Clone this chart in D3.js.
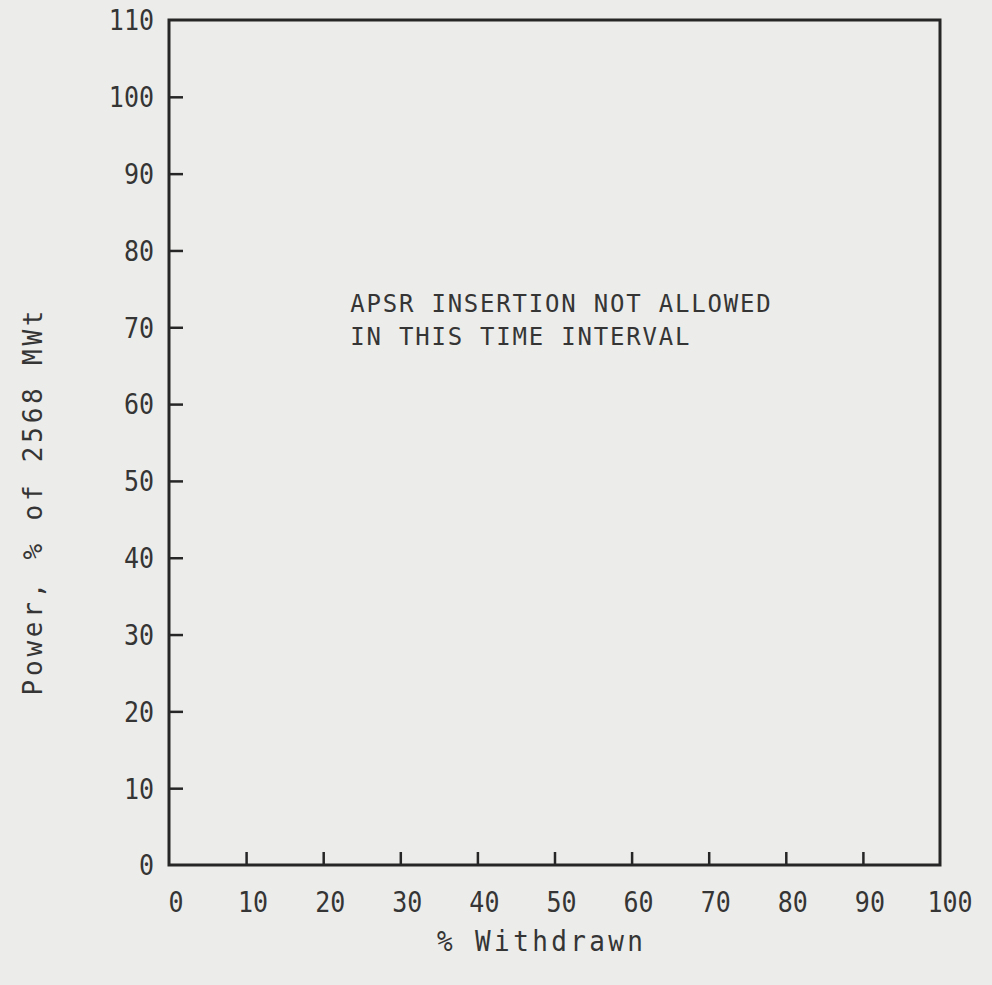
<!DOCTYPE html>
<html lang="en">
	<head>
		<meta charset="utf-8">
		<title>APSR insertion</title>
		<script src="https://d3js.org/d3.v7.min.js"></script>
		<style>
            body { margin: 0; background: #ececea; }
            svg { display: block; }
            text { font-family: "DejaVu Sans Mono", monospace; fill: #353535; }
            .frame { fill: none; stroke: #262626; stroke-width: 3; }
            .tick line { stroke: #262626; stroke-width: 2.5; }
        </style>
	</head>
	<body>
		<script type="text/javascript">

			//  Width and height of svg
			var w = 992;
			var h = 985;

			// axis data
			var xTicks = [0, 10, 20, 30, 40, 50, 60, 70, 80, 90, 100];
			var yTicks = [0, 10, 20, 30, 40, 50, 60, 70, 80, 90, 100, 110];
			var xDomain = [0, 100];
			var yDomain = [0, 110];
			var xTitle = "% Withdrawn";
			var yTitle = "Power, % of 2568 MWt";
			var noteLines = ["APSR INSERTION NOT ALLOWED", "IN THIS TIME INTERVAL"];
			var notePos = [23.5, 72];   // x (% withdrawn), y (power) of the note

			//  Scale functions
			var x_scale = d3.scaleLinear().domain(xDomain).range([169, 940]);
			var y_scale = d3.scaleLinear().domain(yDomain).range([865, 20]);

			var svg = d3.select("body").append("svg").attr("width", w).attr("height", h);
			svg.append("rect").attr("width", w).attr("height", h).attr("fill", "#ececea");

			//  Frame
			svg.append("rect").attr("class", "frame")
				.attr("x", x_scale(0)).attr("y", y_scale(110))
				.attr("width", x_scale(100) - x_scale(0))
				.attr("height", y_scale(0) - y_scale(110));

			//  Y axis, ticks pointing into the plot
			var y_axis = d3.axisRight(y_scale).tickValues(yTicks.filter(function(d) { return d > 0 && d < 110; }))
				.tickSize(14).tickFormat("");
			svg.append("g").attr("transform", "translate(" + x_scale(0) + ",0)").call(y_axis)
				.select(".domain").remove();

			// labels are a bit taller than DejaVu, so stretch them vertically
			svg.append("g").selectAll("text").data(yTicks).enter().append("text")
				.attr("transform", function(d) { return "translate(" + (x_scale(0) - 15) + "," + y_scale(d) + ") scale(1,1.15)"; })
				.attr("dy", "0.36em")
				.attr("text-anchor", "end")
				.style("font-size", "25px")
				.text(function(d) { return d; });

			//  X axis, ticks pointing up
			var x_axis = d3.axisTop(x_scale).tickValues(xTicks.filter(function(d) { return d > 0 && d < 100; }))
				.tickSize(13).tickFormat("");
			svg.append("g").attr("transform", "translate(0," + y_scale(0) + ")").call(x_axis)
				.select(".domain").remove();

			svg.append("g").selectAll("text").data(xTicks).enter().append("text")
				.attr("transform", function(d) { return "translate(" + (x_scale(d) + (d == 100 ? 10 : 7)) + ",912) scale(1,1.15)"; })
				.attr("text-anchor", "middle")
				.style("font-size", "25px")
				.text(function(d) { return d; });

			//  Axis titles
			svg.append("text")
				.attr("transform", "translate(540,951) scale(1,1.1)")
				.attr("text-anchor", "middle")
				.attr("textLength", 206).attr("lengthAdjust", "spacing")
				.style("font-size", "26px")
				.text(xTitle);

			svg.append("text")
				.attr("transform", "translate(42,503) rotate(-90)")
				.attr("text-anchor", "middle")
				.attr("textLength", 385).attr("lengthAdjust", "spacing")
				.style("font-size", "26px")
				.text(yTitle);

			//  Note
			svg.append("g").selectAll("text").data(noteLines).enter().append("text")
				.attr("transform", function(d, i) { return "translate(" + x_scale(notePos[0]) + "," + (y_scale(notePos[1]) + i * 33) + ") scale(1,1.05)"; })
				.style("font-size", "24px")
				.style("letter-spacing", "1.8px")
				.text(function(d) { return d; });

		</script>
	</body>
</html>
